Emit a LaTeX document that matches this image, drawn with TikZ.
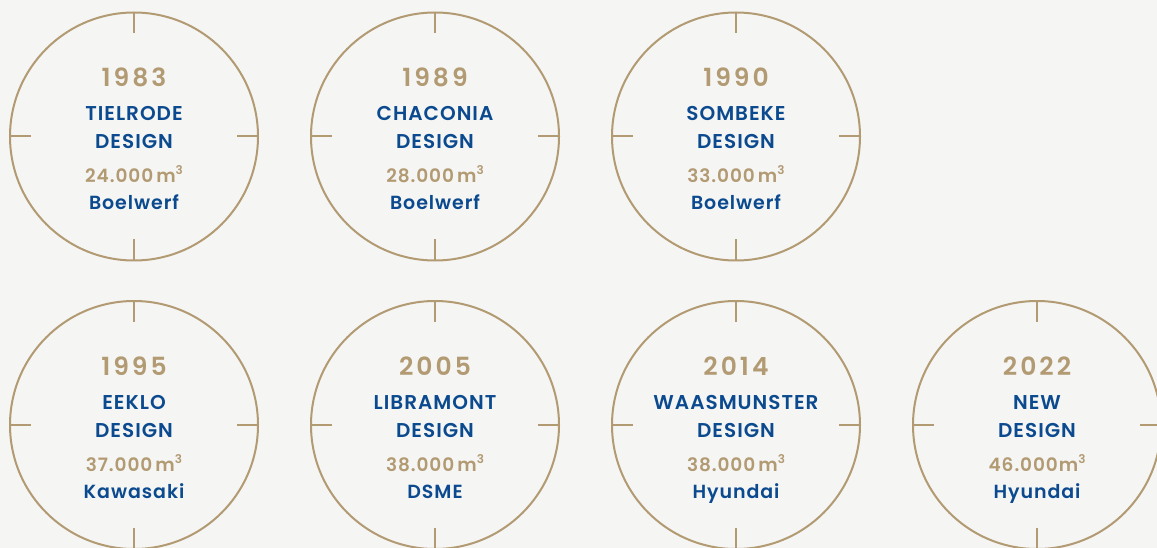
\documentclass[tikz,border=0pt]{standalone}
\usepackage{fontspec}
\setmainfont{Poppins}[BoldFont={Poppins SemiBold}, LetterSpace=5]
\newfontfamily\yearfont{Poppins}[UprightFont={Poppins SemiBold}, LetterSpace=12]
\usetikzlibrary{calc}
\definecolor{tan}{HTML}{B29A72}
\definecolor{navy}{HTML}{0B4A8E}
\definecolor{paper}{HTML}{F5F5F4}
\newcommand{\cubic}{\raisebox{0.42em}{\fontsize{12}{12}\selectfont 3}}

\begin{document}
\begin{tikzpicture}[x=1pt, y=-1pt,
  ring/.style={circle, draw=tan, line width=2pt, minimum size=248pt, inner sep=0pt,
               path picture={
                 \draw[tan, line width=2pt]
                   (path picture bounding box.north) -- ++(0,21)
                   (path picture bounding box.south) -- ++(0,-21)
                   (path picture bounding box.west) -- ++(21,0)
                   (path picture bounding box.east) -- ++(-21,0);}},
  year/.style={font=\yearfont\fontsize{25}{30}\selectfont, text=tan, anchor=base},
  design/.style={font=\bfseries\fontsize{20}{24}\selectfont, text=navy, anchor=base},
  vol/.style={font=\bfseries\fontsize{18.5}{22}\selectfont, text=tan, anchor=base},
  yard/.style={font=\bfseries\fontsize{19}{23}\selectfont, text=navy, anchor=base}
]
  \path[use as bounding box, fill=paper] (0,0) rectangle (1157,548);

  % top row
  \node[ring] (r1) at (134,136.5) {};
  \node[year] (y1) at ([yshift=50pt]r1.center) {1983};
  \node[design] (a1) at ([yshift=16pt]r1.center) {TIELRODE};
  \node[design] (b1) at ([yshift=-12pt]r1.center) {DESIGN};
  \node[vol] (v1) at ([yshift=-46pt]r1.center) {24.000\,m\cubic};
  \node[yard] (s1) at ([yshift=-73pt]r1.center) {Boelwerf};

  \node[ring] (r2) at (435,136.5) {};
  \node[year] (y2) at ([yshift=50pt]r2.center) {1989};
  \node[design] (a2) at ([yshift=16pt]r2.center) {CHACONIA};
  \node[design] (b2) at ([yshift=-12pt]r2.center) {DESIGN};
  \node[vol] (v2) at ([yshift=-46pt]r2.center) {28.000\,m\cubic};
  \node[yard] (s2) at ([yshift=-73pt]r2.center) {Boelwerf};

  \node[ring] (r3) at (736,136.5) {};
  \node[year] (y3) at ([yshift=50pt]r3.center) {1990};
  \node[design] (a3) at ([yshift=16pt]r3.center) {SOMBEKE};
  \node[design] (b3) at ([yshift=-12pt]r3.center) {DESIGN};
  \node[vol] (v3) at ([yshift=-46pt]r3.center) {33.000\,m\cubic};
  \node[yard] (s3) at ([yshift=-73pt]r3.center) {Boelwerf};

  % bottom row
  \node[ring] (r4) at (134,425) {};
  \node[year] (y4) at ([yshift=50pt]r4.center) {1995};
  \node[design] (a4) at ([yshift=16pt]r4.center) {EEKLO};
  \node[design] (b4) at ([yshift=-12pt]r4.center) {DESIGN};
  \node[vol] (v4) at ([yshift=-46pt]r4.center) {37.000\,m\cubic};
  \node[yard] (s4) at ([yshift=-73pt]r4.center) {Kawasaki};

  \node[ring] (r5) at (435,425) {};
  \node[year] (y5) at ([yshift=50pt]r5.center) {2005};
  \node[design] (a5) at ([yshift=16pt]r5.center) {LIBRAMONT};
  \node[design] (b5) at ([yshift=-12pt]r5.center) {DESIGN};
  \node[vol] (v5) at ([yshift=-46pt]r5.center) {38.000\,m\cubic};
  \node[yard] (s5) at ([yshift=-73pt]r5.center) {DSME};

  \node[ring] (r6) at (736,425) {};
  \node[year] (y6) at ([yshift=50pt]r6.center) {2014};
  \node[design] (a6) at ([yshift=16pt]r6.center) {WAASMUNSTER};
  \node[design] (b6) at ([yshift=-12pt]r6.center) {DESIGN};
  \node[vol] (v6) at ([yshift=-46pt]r6.center) {38.000\,m\cubic};
  \node[yard] (s6) at ([yshift=-73pt]r6.center) {Hyundai};

  \node[ring] (r7) at (1037,425) {};
  \node[year] (y7) at ([yshift=50pt]r7.center) {2022};
  \node[design] (a7) at ([yshift=16pt]r7.center) {NEW};
  \node[design] (b7) at ([yshift=-12pt]r7.center) {DESIGN};
  \node[vol] (v7) at ([yshift=-46pt]r7.center) {46.000m\cubic};
  \node[yard] (s7) at ([yshift=-73pt]r7.center) {Hyundai};
\end{tikzpicture}
\end{document}
